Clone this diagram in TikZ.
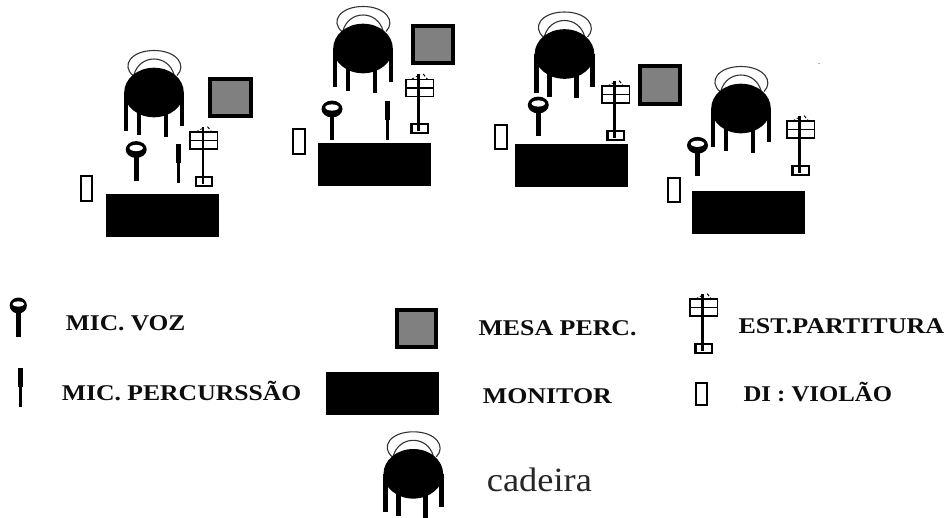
\documentclass[tikz,border=0pt]{standalone}
\usepackage{fontspec}
\setmainfont{Liberation Serif}
\definecolor{tablegrey}{RGB}{128,128,128}
\newcommand{\lbltext}[2]{\scalebox{#1}[1]{#2}}
\tikzset{
  x=1pt,y=-1pt,
  legtok/.style={line width=4.7pt,black},
  arcline/.style={line width=1.1pt,black!80},
  standline/.style={line width=1.4pt,black},
  lbl/.style={anchor=base west,inner sep=0pt,font=\fontsize{22.5}{26}\selectfont\bfseries,text=black!95},
  chairpic/.pic={
    \draw[arcline] (-21,-17) .. controls (-33,-27) and (-23,-42) .. (0,-42) .. controls (23,-42) and (33,-27) .. (23,-17);
    \draw[arcline] (-20,-18) .. controls (-17,-28) and (-9,-33.5) .. (0,-33.5) .. controls (9,-33.5) and (17,-28) .. (20,-18);
    \draw[legtok] (-28,0) -- (-28,38.5);
    \draw[legtok] (-15,10) -- (-15,42.5);
    \draw[legtok] (12,10) -- (12,44);
    \draw[legtok] (28,0) -- (28,33);
    \fill[black] (0,0) ellipse [x radius=29.8,y radius=24.8];
  },
  micvoz/.pic={
    \draw[line width=4.6pt] (0,0) -- (0,31);
    \fill[black] (0,0) ellipse [x radius=10.5,y radius=8.4];
    \fill[white] (0,-1.5) ellipse [x radius=6.7,y radius=3.1];
  },
  micperc/.pic={
    \draw[line width=5pt] (0,0) -- (0,18.5);
    \draw[line width=2.5pt] (0,18.5) -- (0,39);
  },
  standpic/.pic={
    \draw[standline] (-13.7,0) rectangle (13.7,17);
    \draw[standline] (-13.7,8.5) -- (13.7,8.5);
    \draw[line width=2.1pt] (-8,45) rectangle (8.5,54);
    \draw[line width=2.8pt] (-0.8,-5) -- (-0.8,52);
    \draw[line width=0.8pt,densely dashed] (-8,0) -- (-2,-3.3);
    \draw[line width=1pt,densely dashed] (3.7,-5.3) -- (8,0);
  },
  squarepic/.style={draw=black,line width=4.2pt,fill=tablegrey},
  dibox/.style={draw=black,line width=2.2pt,fill=white},
}
\begin{document}
\begin{tikzpicture}
\useasboundingbox (0,0) rectangle (948,517);
\fill[white] (0,0) rectangle (948,517);
% group 1
\pic at (154,92.5) {chairpic};
\draw[squarepic] (210.3,78.7) rectangle (250.7,116.3);
\fill[black] (105.7,194) rectangle (219,237.3);
\draw[dibox] (81,176.3) rectangle (92.3,201);
\pic at (136.2,149.5) {micvoz};
\pic at (178.7,144.3) {micperc};
\pic at (203.8,132) {standpic};
% group 2
\pic at (363,48.5) {chairpic};
\draw[squarepic] (412.7,26) rectangle (453.3,63.3);
\fill[black] (317.7,142.7) rectangle (431,185.7);
\draw[dibox] (293.3,129) rectangle (304.7,153.7);
\pic at (332,109) {micvoz};
\pic at (387.7,101) {micperc};
\pic at (419.5,79.3) {standpic};
% group 3
\pic at (564.5,54) {chairpic};
\draw[squarepic] (639.7,66.3) rectangle (679.7,104);
\fill[black] (515,144.3) rectangle (628.3,187.3);
\draw[dibox] (495.3,125) rectangle (507.3,149.3);
\pic at (538.3,105) {micvoz};
\pic at (615.5,86) {standpic};
% group 4
\pic at (741,108.5) {chairpic};
\fill[black] (691.7,191) rectangle (805,234.3);
\draw[dibox] (668.3,177.7) rectangle (679.7,202.3);
\pic at (697.5,145.3) {micvoz};
\pic at (800.5,121) {standpic};
\fill[black!60] (819,63.5) circle (0.6);
% legend
\draw[line width=4.6pt] (18.3,305.5) -- (18.3,337);
\fill[black] (18.3,305.5) ellipse [x radius=8.6,y radius=8];
\fill[white] (18.3,304) ellipse [x radius=6,y radius=2.6];
\pic at (20.5,368.3) {micperc};
\draw[squarepic] (397,310) rectangle (436,347);
\fill[black] (326,372) rectangle (439,415);
\pic at (413.3,473.8) {chairpic};
\pic at (703.5,299) {standpic};
\draw[dibox] (696,382.7) rectangle (707.3,404.7);
\node[lbl] (lvoz) at (65.7,330.5) {\lbltext{1.13}{MIC. VOZ}};
\node[lbl] (lperc) at (61.7,400.5) {\lbltext{1.14}{MIC. PERCURSSÃO}};
\node[lbl] (lmesa) at (478.3,335.7) {\lbltext{1.15}{MESA PERC.}};
\node[lbl] (lmon) at (482.7,403.3) {\lbltext{1.15}{MONITOR}};
\node[lbl] (lest) at (738.3,333) {\lbltext{1.157}{EST.PARTITURA}};
\node[lbl] (ldi) at (743.3,401) {\lbltext{1.10}{DI : VIOLÃO}};
\node[anchor=base west,inner sep=0pt,font=\fontsize{34}{38}\selectfont,text=black!85] (lcad) at (486.7,491) {\lbltext{1.07}{cadeira}};
\end{tikzpicture}
\end{document}
